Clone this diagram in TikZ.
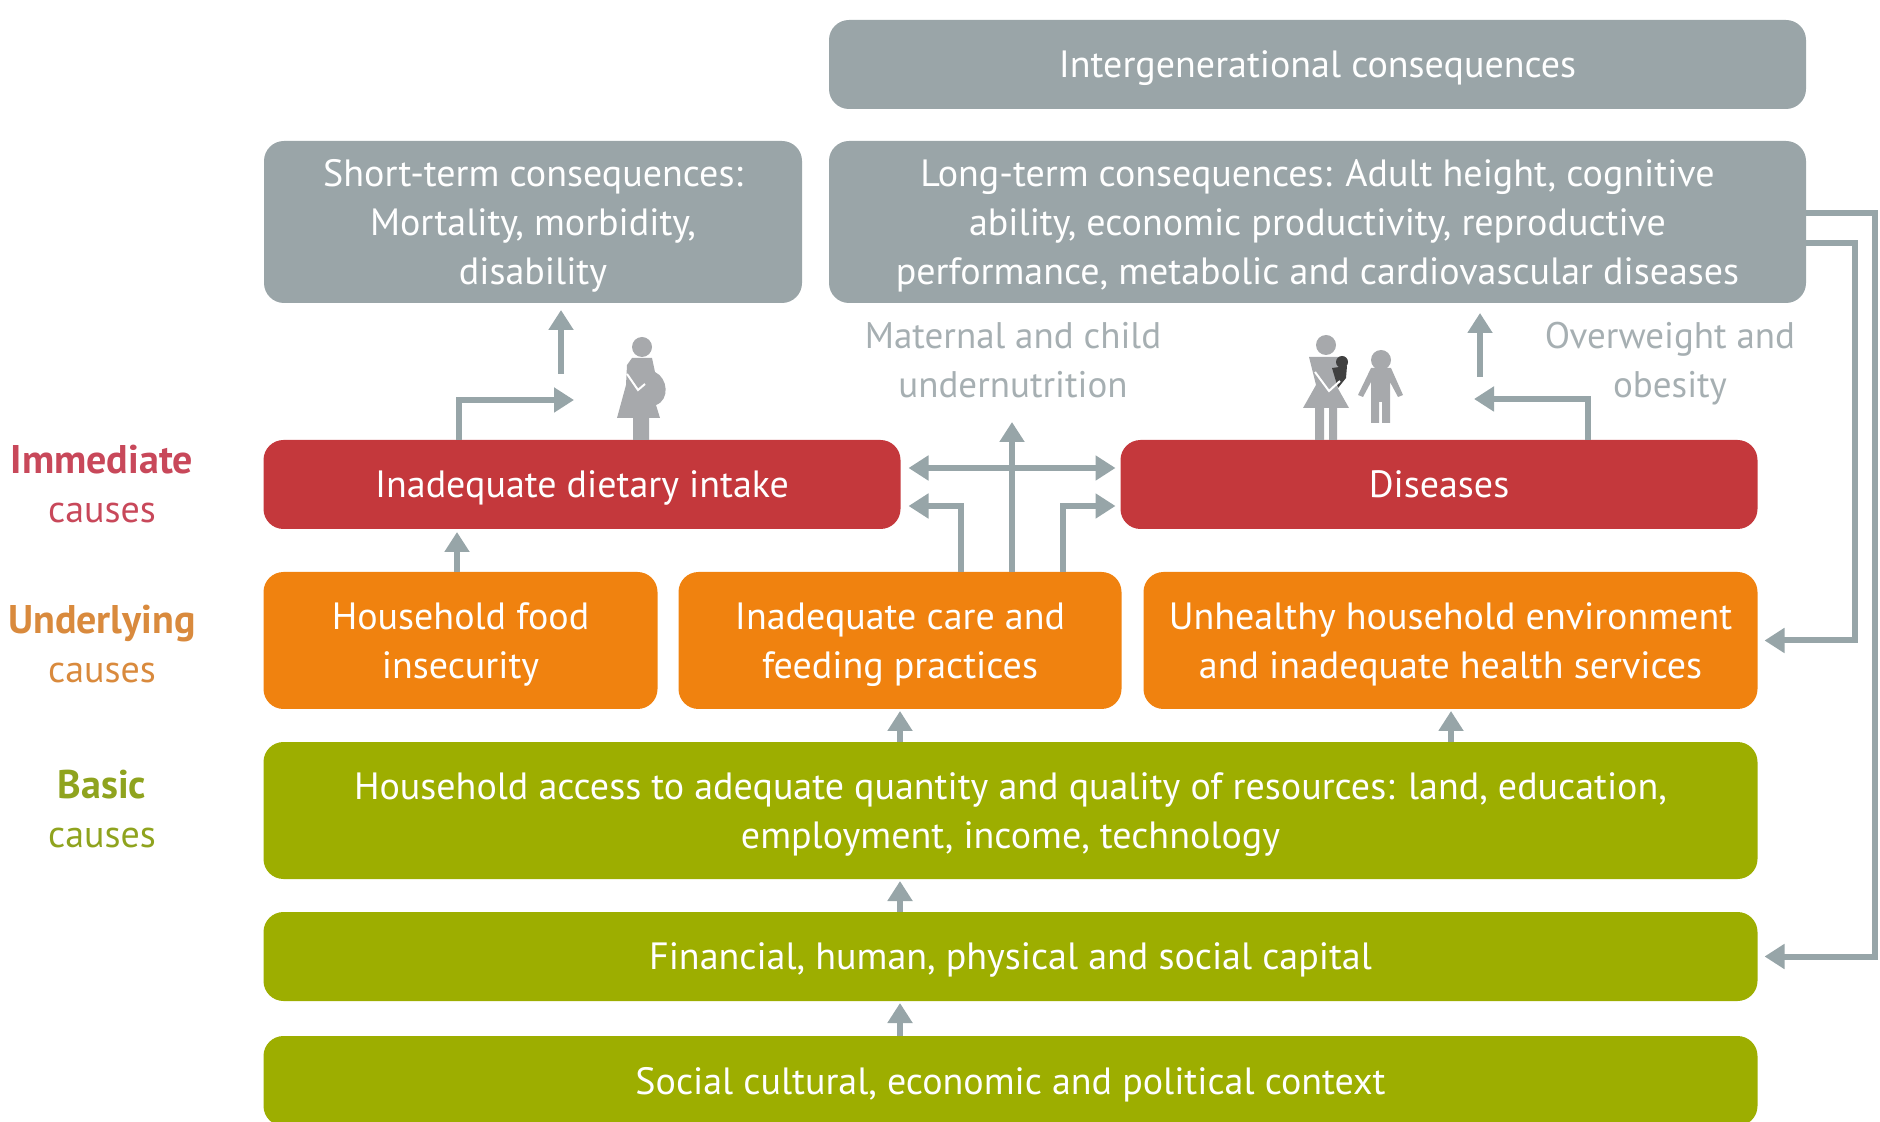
\documentclass[tikz,border=0pt]{standalone}
\usepackage{fontspec}
\setmainfont{PT Sans}
\usetikzlibrary{arrows.meta,positioning}
\definecolor{greybox}{HTML}{9AA5A8}
\definecolor{redbox}{HTML}{C4383C}
\definecolor{orangebox}{HTML}{F0820F}
\definecolor{greenbox}{HTML}{9DAE00}
\definecolor{arrowgrey}{HTML}{97A5A8}
\definecolor{figgrey}{HTML}{A7A9AC}
\definecolor{notegrey}{HTML}{A6AFB2}
\definecolor{redlabel}{HTML}{C8485A}
\definecolor{orangelabel}{HTML}{D98A3D}
\definecolor{greenlabel}{HTML}{8FA31E}
\newcommand{\levelhead}[1]{{\fontsize{20}{24.5}\selectfont\textbf{#1}}}

\begin{document}
\begin{tikzpicture}[x=0.5pt, y=-0.5pt, >={Triangle[length=10pt,width=12pt]},
    font=\fontsize{19}{24.5}\selectfont,
    box/.style={rounded corners=10pt, inner sep=0pt, outer sep=0pt, align=center, text=white, text depth=0pt},
    greyrow/.style={box, fill=greybox},
    redrow/.style={box, fill=redbox, minimum width=318.5pt, minimum height=44.5pt},
    orangerow/.style={box, fill=orangebox, minimum height=68.5pt},
    greenrow/.style={box, fill=greenbox, minimum width=747pt},
    level/.style={align=center},
    note/.style={align=center, text=notegrey, text depth=0pt, font=\fontsize{18.5}{24.5}\selectfont},
    link/.style={->, draw=arrowgrey, line width=3pt},
    figure/.style={fill=figgrey, draw=none}]

  \useasboundingbox (0,0) rectangle (1880,1122);

  \node[greyrow, minimum width=488.5pt, minimum height=81pt]  (long)     at (1317.5,222)       {Long-term consequences: Adult height, cognitive\\ability, economic productivity, reproductive\\performance, metabolic and cardiovascular diseases};
  \node[greyrow, minimum width=269pt, minimum height=81pt]    (short)    [left=13.5pt of long]  {Short-term consequences:\\Mortality, morbidity,\\disability};
  \node[greyrow, minimum width=488.5pt, minimum height=44.5pt] (inter)   [above=16pt of long]   {Intergenerational consequences};

  \node[redrow]                       (diet)     at (582,484.5)         {Inadequate dietary intake};
  \node[redrow]                       (diseases) [right=110pt of diet]  {Diseases};

  \node[orangerow, minimum width=197pt]   (food)     [below right=21.5pt and 0pt of diet.south west] {Household food\\insecurity};
  \node[orangerow, minimum width=221.5pt] (care)     [right=10.5pt of food]   {Inadequate care and\\feeding practices};
  \node[orangerow, minimum width=307pt]   (health)   [right=11pt of care]     {Unhealthy household environment\\and inadequate health services};

  \node[greenrow, minimum height=68.5pt]  (access)   [below right=16.5pt and 0pt of food.south west] {Household access to adequate quantity and quality of resources: land, education,\\employment, income, technology};
  \node[greenrow, minimum height=44.5pt]  (capital)  [below=16.5pt of access]  {Financial, human, physical and social capital};
  \node[greenrow, minimum height=45pt]    (context)  [below=17.5pt of capital] {Social cultural, economic and political context};

  \node[level] (immediate)  at (102,484)  {\textcolor{redlabel}{\levelhead{Immediate}}\\\textcolor{redlabel}{causes}};
  \node[level] (underlying) at (102,644)  {\textcolor{orangelabel}{\levelhead{Underlying}}\\\textcolor{orangelabel}{causes}};
  \node[level] (basic)      at (102,809)  {\textcolor{greenlabel}{\levelhead{Basic}}\\\textcolor{greenlabel}{causes}};

  \node[note] (under) at (1013,360)  {Maternal and child\\undernutrition};
  \node[note] (obese) at (1670,360)  {Overweight and\\obesity};

  \coordinate (shorttail)  at (561,374);
  \coordinate (shorttip)   at (561,310);
  \coordinate (mothertip)  at (574,400);
  \coordinate (motherx)    at (459,400);
  \coordinate (longtail)   at (1480,377);
  \coordinate (longtip)    at (1480,313);
  \coordinate (childtip)   at (1474,399);
  \coordinate (childx)     at (1588,399);
  \coordinate (undertip)   at (1012,422);
  \coordinate (leftturn)   at (961,506);
  \coordinate (rightturn)  at (1063,506);
  \coordinate (outer)      at (1875,213);
  \coordinate (inner)      at (1855,243);

  \draw[link] (shorttail) -- (shorttip);
  \draw[link] (diet.north -| motherx) |- (mothertip);
  \draw[link] (longtail) -- (longtip);
  \draw[link] (diseases.north -| childx) |- (childtip);
  \draw[link, shorten >=1.5pt] (food.north -| 457,0) -- (diet.south -| 457,0);
  \draw[link] (care.north -| undertip) -- (undertip);
  \draw[link, <->, shorten <=4pt, shorten >=2.5pt] (diet.east |- 0,468) -- (diseases.west |- 0,468);
  \draw[link, shorten >=4pt] (care.north -| leftturn) |- (diet.east |- leftturn);
  \draw[link, shorten >=2.5pt] (care.north -| rightturn) |- (diseases.west |- rightturn);
  \draw[link, shorten >=1pt] (access.north -| care.south) -- (care.south);
  \draw[link, shorten >=1pt] (access.north -| 1451,0) -- (health.south -| 1451,0);
  \draw[link, shorten >=1pt] (capital.north -| care.south) -- (access.south -| care.south);
  \draw[link, shorten >=1pt] (context.north -| care.south) -- (capital.south -| care.south);
  \draw[link, shorten >=3.5pt] (long.east |- outer) -- (outer) |- (capital.east);
  \draw[link, shorten >=3.5pt] (long.east |- inner) -- (inner) |- (health.east);

  \fill[figure] (642,347) circle (5pt);
  \fill[figure] (632,358) -- (652,358) -- (655,372) .. controls (668,378) and (670,400) .. (656,405) -- (660,418) -- (649,418) -- (649,440) -- (633,440) -- (633,418) -- (617,418) -- (626,385) -- (627,365) -- cycle;
  \draw[white, line width=1pt] (627,374) -- (638,390) -- (645,384);

  \fill[figure] (1326,345) circle (5pt);
  \fill[figure] (1309,357) -- (1345,357) -- (1336,385) -- (1349,408) -- (1337,408) -- (1337,440) -- (1329,440) -- (1329,408) -- (1324,408) -- (1324,440) -- (1315,440) -- (1315,408) -- (1303,408) -- (1316,385) -- cycle;
  \fill[black!75] (1342,362) circle (3pt);
  \fill[black!75] (1332,368) -- (1347,366) -- (1346,378) -- (1338,388) -- cycle;
  \draw[white, line width=1pt] (1315,372) -- (1329,391) -- (1340,381);

  \fill[figure] (1381,360) circle (5pt);
  \fill[figure] (1371,368) -- (1391,368) -- (1403,395) -- (1398,397) -- (1390,382) -- (1390,423) -- (1382,423) -- (1382,402) -- (1379,402) -- (1379,423) -- (1371,423) -- (1371,382) -- (1363,397) -- (1358,395) -- cycle;
\end{tikzpicture}
\end{document}
